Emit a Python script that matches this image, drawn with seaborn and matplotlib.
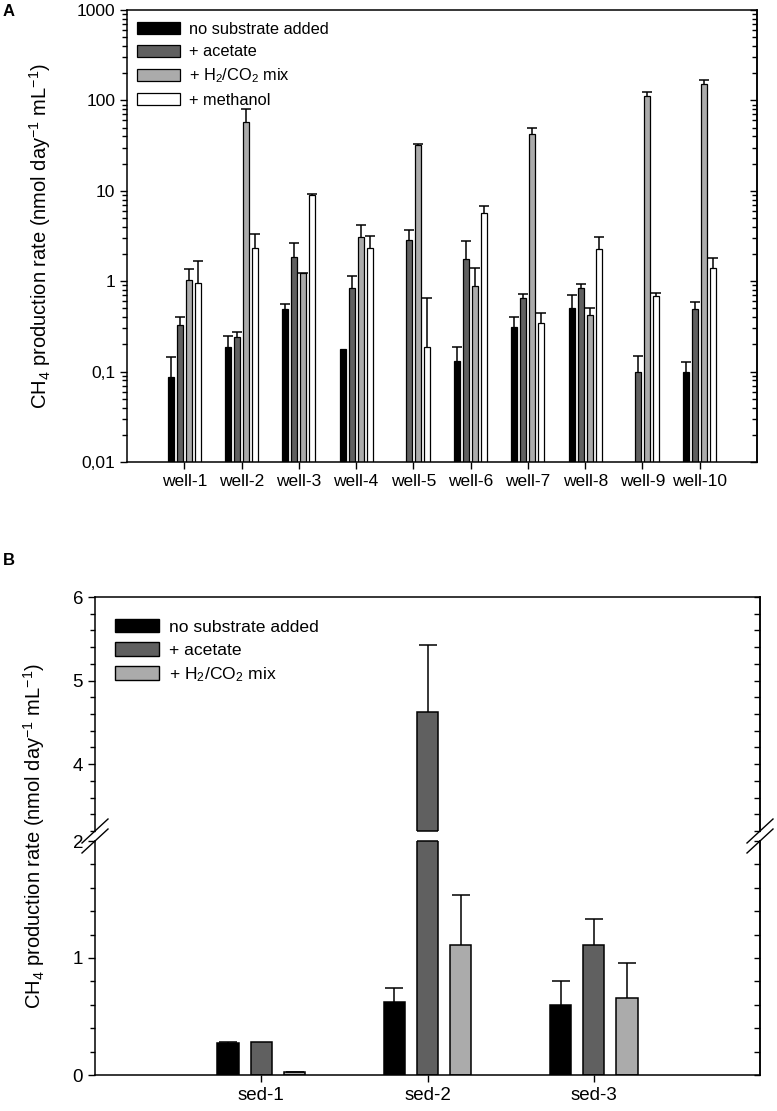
import numpy as np
import pandas as pd
import seaborn as sns
import matplotlib.pyplot as plt
from matplotlib.patches import Patch
from matplotlib.lines import Line2D
from matplotlib.ticker import FixedLocator, LogLocator, MultipleLocator, NullFormatter

plt.rcParams['font.family'] = ['Liberation Sans', 'DejaVu Sans']
plt.rcParams['mathtext.fontset'] = 'custom'
plt.rcParams['mathtext.rm'] = 'Liberation Sans'
plt.rcParams['mathtext.it'] = 'Liberation Sans:italic'
plt.rcParams['mathtext.bf'] = 'Liberation Sans:bold'
plt.rcParams['mathtext.default'] = 'regular'

# ---- panel A data (nmol day-1 mL-1), errors are upper SD ----
wells = ["well-1", "well-2", "well-3", "well-4", "well-5",
         "well-6", "well-7", "well-8", "well-9", "well-10"]
no_sub = [0.088, 0.188, 0.487, 0.180, np.nan, 0.130, 0.308, 0.507, np.nan, 0.100]
no_sub_err = [0.058, 0.059, 0.070, np.nan, np.nan, 0.058, 0.095, 0.19, np.nan, 0.028]
acetate = [0.327, 0.239, 1.86, 0.843, 2.89, 1.75, 0.644, 0.851, 0.099, 0.494]
acetate_err = [0.076, 0.036, 0.79, 0.29, 0.77, 1.02, 0.074, 0.076, 0.049, 0.096]
h2co2 = [1.025, 57.5, 1.22, 3.09, 31.8, 0.896, 42.1, 0.418, 110.7, 150.0]
h2co2_err = [0.355, 22.5, 0.02, 1.07, 1.2, 0.494, 7.8, 0.082, 14.0, 19.0]
methanol = [0.958, 2.33, 9.08, 2.30, 0.188, 5.69, 0.347, 2.27, 0.688, 1.39]
methanol_err = [0.70, 1.04, 0.12, 0.87, 0.47, 1.05, 0.093, 0.82, 0.055, 0.42]

# ---- panel B data ----
seds = ["sed-1", "sed-2", "sed-3"]
no_sub_b = [0.276, 0.626, 0.60]
no_sub_b_err = [0.005, 0.114, 0.20]
acetate_b = [0.28, 4.62, 1.107]
acetate_b_err = [np.nan, 0.81, 0.226]
h2co2_b = [0.025, 1.107, 0.656]
h2co2_b_err = [0.004, 0.435, 0.30]

names = ["no substrate added", "+ acetate", "+ H$_2$/CO$_2$ mix", "+ methanol"]
colors = ["#000000", "#606060", "#ababab", "#ffffff"]

ylab = "CH$_4$ production rate (nmol day$^{-1}$ mL$^{-1}$)"


def to_long(cats, series):
    rows = []
    for name, vals in zip(names, series):
        for c, v in zip(cats, vals):
            if not np.isnan(v):
                rows.append({"site": c, "treatment": name, "rate": v})
    return pd.DataFrame(rows)


def add_errors(ax, n_cats, series, errs, width, capsize):
    # one-sided (upper) error bars, placed at the dodged bar centres
    k = len(series)
    for j, (vals, e) in enumerate(zip(series, errs)):
        x = np.arange(n_cats) + (j - (k - 1) / 2) * width / k
        vals = np.asarray(vals, float)
        top = vals + np.asarray(e, float)
        ok = ~np.isnan(top)
        ax.vlines(x[ok], vals[ok], top[ok], color="black", lw=1.1, zorder=1)
        ax.plot(x[ok], top[ok], ls="none", marker="_", ms=capsize * 2,
                mew=1.1, color="black", zorder=1)


fig = plt.figure(figsize=(7.77, 11.11), dpi=100)
W, H = 777.0, 1111.0

# ================= panel A =================
dfA = to_long(wells, [no_sub, acetate, h2co2, methanol])
axA = fig.add_axes([127 / W, 1 - 462 / H, 630 / W, 452 / H])
sns.barplot(data=dfA, x="site", y="rate", hue="treatment", order=wells,
            hue_order=names, palette=colors, width=0.63, gap=0.33,
            edgecolor="black", linewidth=0.9, errorbar=None, legend=False,
            saturation=1, ax=axA)
add_errors(axA, len(wells), [no_sub, acetate, h2co2, methanol],
           [no_sub_err, acetate_err, h2co2_err, methanol_err], 0.63, 3.5)
axA.set_yscale("log")
axA.set_ylim(0.01, 1000)
axA.set_xlim(-1, len(wells))
axA.set_xlabel("")
axA.set_ylabel("")
axA.yaxis.set_major_locator(FixedLocator([0.01, 0.1, 1, 10, 100, 1000]))
axA.set_yticklabels(["0,01", "0,1", "1", "10", "100", "1000"])
axA.yaxis.set_minor_locator(LogLocator(base=10, subs=np.arange(2, 10)))
axA.yaxis.set_minor_formatter(NullFormatter())
axA.tick_params(axis="both", which="major", length=5, width=1, labelsize=12.5, direction="out")
axA.tick_params(axis="y", which="minor", length=3.5, width=1, direction="out")
for s in axA.spines.values():
    s.set_linewidth(1.1)
secA = axA.secondary_yaxis("right")
secA.yaxis.set_major_locator(FixedLocator([0.01, 0.1, 1, 10, 100, 1000]))
secA.yaxis.set_minor_locator(LogLocator(base=10, subs=np.arange(2, 10)))
secA.yaxis.set_minor_formatter(NullFormatter())
secA.tick_params(axis="y", which="major", direction="in", length=5, width=1, labelright=False)
secA.tick_params(axis="y", which="minor", direction="in", length=3.5, width=1)
secA.spines["right"].set_linewidth(1.1)

axA.legend(handles=[Patch(facecolor=c, edgecolor="black", linewidth=0.9, label=n)
                    for c, n in zip(colors, names)],
           loc="upper left", bbox_to_anchor=(10 / 630, 1 - 12 / 452), frameon=False,
           fontsize=11.8, handlelength=2.6, handleheight=0.75, labelspacing=0.45,
           handletextpad=0.6, borderaxespad=0, borderpad=0)

fig.text(3 / W, 1 - 4 / H, "A", fontsize=12, fontweight="bold", ha="left", va="top")
fig.text(40 / W, 1 - 236 / H, ylab, rotation=90, ha="center", va="center", fontsize=14.5)

# ================= panel B (broken y axis) =================
dfB = to_long(seds, [no_sub_b, acetate_b, h2co2_b])
up = fig.add_axes([95 / W, 1 - 831 / H, 665 / W, 234 / H])
lo = fig.add_axes([95 / W, 1 - 1075 / H, 665 / W, 234 / H])
for ax, lim in [(up, (3.2, 6)), (lo, (0, 2))]:
    sns.barplot(data=dfB, x="site", y="rate", hue="treatment", order=seds,
                hue_order=names[:3], palette=colors[:3], width=0.6, gap=0.365,
                edgecolor="black", linewidth=1.1, errorbar=None, legend=False,
                saturation=1, ax=ax)
    add_errors(ax, len(seds), [no_sub_b, acetate_b, h2co2_b],
               [no_sub_b_err, acetate_b_err, h2co2_b_err], 0.6, 6.5)
    ax.set_ylim(*lim)
    ax.set_xlim(-1, len(seds))
    ax.set_xlabel("")
    ax.set_ylabel("")
    ax.yaxis.set_minor_locator(MultipleLocator(0.2))
    ax.tick_params(axis="both", which="major", length=5, width=1, labelsize=13.5, direction="out")
    ax.tick_params(axis="y", which="minor", length=3.5, width=1, direction="out")
    for s in ax.spines.values():
        s.set_linewidth(1.1)
    sec = ax.secondary_yaxis("right")
    sec.yaxis.set_major_locator(MultipleLocator(1))
    sec.yaxis.set_minor_locator(MultipleLocator(0.2))
    sec.tick_params(axis="y", which="both", direction="in", length=4, width=1, labelright=False)
    sec.spines["right"].set_linewidth(1.1)
    # close the bars that are cut by the break
    for p in ax.patches:
        top = p.get_y() + p.get_height()
        if top > lim[1]:
            ax.hlines(lim[1], p.get_x(), p.get_x() + p.get_width(), color="black",
                      lw=1.1, clip_on=False, zorder=3)
        if lim[0] > 0 and top > lim[0]:
            ax.hlines(lim[0], p.get_x(), p.get_x() + p.get_width(), color="black",
                      lw=1.1, clip_on=False, zorder=3)

up.yaxis.set_major_locator(FixedLocator([4, 5, 6]))
up.spines["bottom"].set_visible(False)
up.tick_params(axis="x", which="both", bottom=False, labelbottom=False)
lo.yaxis.set_major_locator(FixedLocator([0, 1, 2]))
lo.spines["top"].set_visible(False)

up.legend(handles=[Patch(facecolor=c, edgecolor="black", linewidth=1, label=n)
                   for c, n in zip(colors[:3], names[:3])],
          loc="upper left", bbox_to_anchor=(20 / 665, 1 - 22 / 234), frameon=False,
          fontsize=12.6, handlelength=2.5, handleheight=0.8, labelspacing=0.42,
          handletextpad=0.6, borderaxespad=0, borderpad=0)

# break marks
for xc in (95, 760):
    for yc in (831, 841):
        fig.add_artist(Line2D([(xc - 13) / W, (xc + 13) / W],
                              [1 - (yc + 12) / H, 1 - (yc - 12) / H],
                              color="black", lw=1, transform=fig.transFigure))

fig.text(3 / W, 1 - 553 / H, "B", fontsize=12, fontweight="bold", ha="left", va="top")
fig.text(34 / W, 1 - 836 / H, ylab, rotation=90, ha="center", va="center", fontsize=14.5)

fig.savefig("out.png", dpi=100)
